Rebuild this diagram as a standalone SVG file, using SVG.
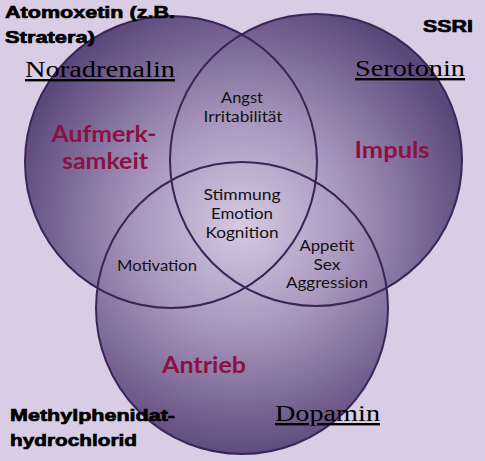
<svg xmlns="http://www.w3.org/2000/svg" width="485" height="461" viewBox="0 0 485 461">
<defs>
<radialGradient id="g" gradientUnits="userSpaceOnUse" cx="242" cy="225" r="235">
<stop offset="0" stop-color="#d6c9e2"/>
<stop offset="0.45" stop-color="#a996bd"/>
<stop offset="1" stop-color="#5c477b"/>
</radialGradient>
</defs>
<style>
.fill{fill:url(#g);stroke:none}
.ring{fill:none;stroke:#3a2458;stroke-width:2}
.drug{font-family:"Liberation Sans",Arial,sans-serif;font-weight:bold;font-size:17px;fill:#000;stroke:#000;stroke-width:0.7}
.nt{font-family:"Liberation Serif","Times New Roman",serif;font-size:24px;fill:#000;text-decoration:underline}
.fx{font-family:"Lato","Open Sans",sans-serif;font-weight:bold;font-size:22px;fill:#8a1240;text-anchor:middle}
.in{font-family:"Lato","Open Sans",sans-serif;font-size:15.5px;fill:#111;text-anchor:middle}
</style>
<rect width="485" height="461" fill="#d8cde4"/>
<circle class="fill" cx="171" cy="162" r="146"/>
<circle class="fill" cx="316" cy="160" r="146"/>
<circle class="fill" cx="242" cy="308" r="146"/>
<g id="connectors"/>
<g id="noradrenalin">
<circle class="ring" cx="171" cy="162" r="146"/>
<text class="nt" x="25" y="77" textLength="150" lengthAdjust="spacingAndGlyphs">Noradrenalin</text>
<text class="fx" x="104" y="142" textLength="105" lengthAdjust="spacingAndGlyphs">Aufmerk-</text>
<text class="fx" x="105" y="169" textLength="86" lengthAdjust="spacingAndGlyphs">samkeit</text>
</g>
<g id="serotonin">
<circle class="ring" cx="316" cy="160" r="146"/>
<text class="nt" x="355" y="76" textLength="110" lengthAdjust="spacingAndGlyphs">Serotonin</text>
<text class="fx" x="392" y="158" textLength="75" lengthAdjust="spacingAndGlyphs">Impuls</text>
</g>
<g id="dopamin">
<circle class="ring" cx="242" cy="308" r="146"/>
<text class="nt" x="275" y="421" textLength="105" lengthAdjust="spacingAndGlyphs">Dopamin</text>
<text class="fx" x="204" y="373" textLength="84" lengthAdjust="spacingAndGlyphs">Antrieb</text>
</g>
<g id="overlaps">
<text class="in" x="242" y="103" textLength="42" lengthAdjust="spacingAndGlyphs">Angst</text>
<text class="in" x="243" y="122" textLength="79" lengthAdjust="spacingAndGlyphs">Irritabilität</text>
<text class="in" x="242" y="200" textLength="77" lengthAdjust="spacingAndGlyphs">Stimmung</text>
<text class="in" x="242" y="219" textLength="62" lengthAdjust="spacingAndGlyphs">Emotion</text>
<text class="in" x="242" y="238" textLength="73" lengthAdjust="spacingAndGlyphs">Kognition</text>
<text class="in" x="157" y="271" textLength="80" lengthAdjust="spacingAndGlyphs">Motivation</text>
<text class="in" x="327" y="251" textLength="55" lengthAdjust="spacingAndGlyphs">Appetit</text>
<text class="in" x="327" y="270" textLength="27" lengthAdjust="spacingAndGlyphs">Sex</text>
<text class="in" x="327" y="288" textLength="82" lengthAdjust="spacingAndGlyphs">Aggression</text>
</g>
<g id="drugs">
<text class="drug" x="5" y="18" textLength="170" lengthAdjust="spacingAndGlyphs">Atomoxetin (z.B.</text>
<text class="drug" x="5" y="43" textLength="90" lengthAdjust="spacingAndGlyphs">Stratera)</text>
<text class="drug" x="423" y="32" textLength="50" lengthAdjust="spacingAndGlyphs">SSRI</text>
<text class="drug" x="10" y="421" textLength="165" lengthAdjust="spacingAndGlyphs">Methylphenidat-</text>
<text class="drug" x="10" y="446" textLength="127" lengthAdjust="spacingAndGlyphs">hydrochlorid</text>
</g>
</svg>
